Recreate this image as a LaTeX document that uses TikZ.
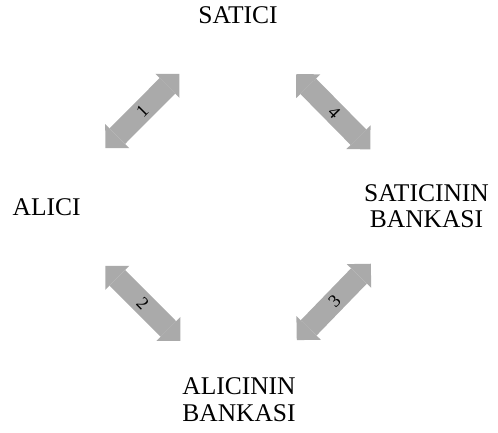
\documentclass[tikz,border=0pt]{standalone}
\usepackage{fontspec}
\setmainfont{Liberation Serif}
\usetikzlibrary{positioning, arrows.meta}
\definecolor{arrowgray}{RGB}{170,170,170}

\begin{document}
\begin{tikzpicture}[on grid, inner sep=0pt,
  main/.style={align=center, font=\fontsize{25.5}{26.5}\selectfont},
  link/.style={arrowgray, line width=22pt,
    {Triangle[length=17pt, width=34pt, line width=0pt]}-{Triangle[length=17pt, width=34pt, line width=0pt]},
    shorten <=83pt, shorten >=83pt},
  num/.style={sloped, black, font=\fontsize{18}{18}\selectfont}]
  \useasboundingbox (0pt,0pt) rectangle (498pt,-432pt);
  \node[main] (alici) at (46.7pt,-207pt) {ALICI};
  \node[main] (satici) [above right=192pt and 191.3pt of alici] {SATICI};
  \node[main] (satbank) [below right=191.3pt and 188.5pt of satici] {SATICININ\\BANKASI};
  \node[main] (alibank) [below right=192.7pt and 192.3pt of alici] {ALICININ\\BANKASI};
  \draw[link] (alici.center) -- node[num] {1} (satici.center);
  \draw[link] (alici.center) -- node[num] {2} (alibank.center);
  \draw[link, shorten >=80pt] (alibank.center) -- node[num, pos=0.51] {3} (satbank.center);
  \draw[link, shorten >=80pt] (satici.center) -- node[num, pos=0.51] {4} (satbank.center);
\end{tikzpicture}
\end{document}
